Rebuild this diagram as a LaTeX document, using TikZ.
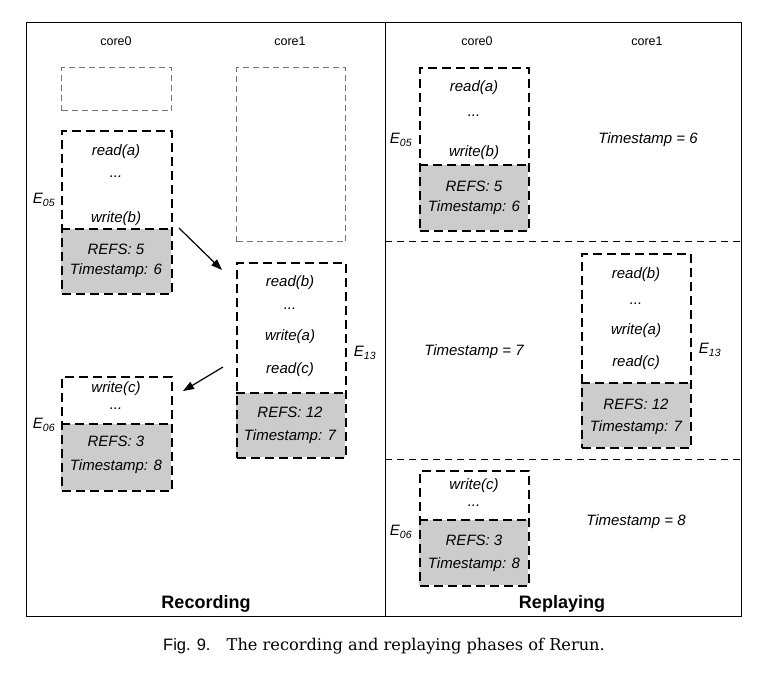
\documentclass[tikz,border=0pt]{standalone}
\usepackage{fontspec}
\newfontfamily\arialfont{Liberation Sans}
\newfontfamily\capfont{DejaVu Serif}
\usetikzlibrary{arrows.meta}

\begin{document}
\begin{tikzpicture}[x=1pt,y=-1pt,
  evbox/.style={draw, line width=1.6pt, dash pattern=on 9pt off 5pt},
  evline/.style={line width=1.6pt, dash pattern=on 9pt off 5pt},
  emptybox/.style={draw=black!55, line width=1pt, dash pattern=on 6pt off 4pt},
  refsfill/.style={fill=black!20},
  sepline/.style={line width=0.8pt, dash pattern=on 7pt off 5pt},
  op/.style={font=\arialfont\itshape\fontsize{15}{18}\selectfont},
  dots/.style={op, inner sep=0pt},
  elabel/.style={font=\arialfont\itshape\fontsize{15}{18}\selectfont},
  corelabel/.style={font=\arialfont\fontsize{12.5}{15}\selectfont},
  phase/.style={font=\arialfont\bfseries\fontsize{18}{22}\selectfont},
  flow/.style={line width=1.2pt, -{Triangle[length=11pt,width=8pt]}}]
\useasboundingbox (0,0) rectangle (762,675);
\fill[white] (0,0) rectangle (762,675);

% frame
\draw[line width=0.8pt] (26,22) rectangle (741,616);
\draw[line width=0.8pt] (385,22) -- (385,616);

% ---- recording ----
\node[corelabel] (rc0) at (116,41) {core0};
\node[corelabel] (rc1) at (290,41) {core1};

\node[emptybox, anchor=north west, minimum width=110pt, minimum height=43pt] (idle0) at (61,67) {};
\node[emptybox, anchor=north west, minimum width=109pt, minimum height=174pt] (idle1) at (236,67) {};

% E05
\fill[refsfill] (61,229) rectangle (171,293);
\node[evbox, anchor=north west, minimum width=110pt, minimum height=163pt] (rec05) at (61,130) {};
\draw[evline] (61,229) -- (171,229);
\node[op] (r05a) at (116,152) {read(a)};
\node[dots] (r05b) at (116,177) {...};
\node[op] (r05c) at (116,219) {write(b)};
\node[op] (r05d) at (116,249) {REFS: 5};
\node[op] (r05e) at (116,271) {Timestamp: 6};
\node[elabel] (r05l) at (44,200) {E\textsubscript{05}};

% E13
\fill[refsfill] (236,393) rectangle (345,457);
\node[evbox, anchor=north west, minimum width=109pt, minimum height=195pt] (rec13) at (236,262) {};
\draw[evline] (236,393) -- (345,393);
\node[op] (r13a) at (290,283) {read(b)};
\node[dots] (r13b) at (290,309) {...};
\node[op] (r13c) at (290,337) {write(a)};
\node[op] (r13d) at (290,370) {read(c)};
\node[op] (r13e) at (290,412) {REFS: 12};
\node[op] (r13f) at (290,437) {Timestamp: 7};
\node[elabel] (r13l) at (365,353) {E\textsubscript{13}};

% E06
\fill[refsfill] (61,424) rectangle (171,490);
\node[evbox, anchor=north west, minimum width=110pt, minimum height=114pt] (rec06) at (61,376) {};
\draw[evline] (61,424) -- (171,424);
\node[op] (r06a) at (116,389) {write(c)};
\node[dots] (r06b) at (116,409) {...};
\node[op] (r06c) at (116,441) {REFS: 3};
\node[op] (r06d) at (116,467) {Timestamp: 8};
\node[elabel] (r06l) at (44,425) {E\textsubscript{06}};

\coordinate (f1s) at (179,228);
\coordinate (f1e) at (222,270);
\coordinate (f2s) at (223,367);
\coordinate (f2e) at (183,391);
\draw[flow] (f1s) -- (f1e);
\draw[flow] (f2s) -- (f2e);

\node[phase] (recording) at (206,604) {Recording};

% ---- replaying ----
\node[corelabel] (pc0) at (477,41) {core0};
\node[corelabel] (pc1) at (647,41) {core1};
\draw[sepline] (385,241) -- (741,241);
\draw[sepline] (385,459) -- (741,459);

% E05
\fill[refsfill] (419,165) rectangle (528,230);
\node[evbox, anchor=north west, minimum width=109pt, minimum height=163pt] (rep05) at (419,67) {};
\draw[evline] (419,165) -- (528,165);
\node[op] (p05a) at (474,88) {read(a)};
\node[dots] (p05b) at (474,116) {...};
\node[op] (p05c) at (474,153) {write(b)};
\node[op] (p05d) at (474,186) {REFS: 5};
\node[op] (p05e) at (474,208) {Timestamp: 6};
\node[elabel] (p05l) at (401,140) {E\textsubscript{05}};
\node[op] (ts6) at (648,140) {Timestamp = 6};

% E13
\fill[refsfill] (581,383) rectangle (690,447);
\node[evbox, anchor=north west, minimum width=109pt, minimum height=194pt] (rep13) at (581,253) {};
\draw[evline] (581,383) -- (690,383);
\node[op] (p13a) at (636,275) {read(b)};
\node[dots] (p13b) at (636,304) {...};
\node[op] (p13c) at (636,331) {write(a)};
\node[op] (p13d) at (636,363) {read(c)};
\node[op] (p13e) at (636,404) {REFS: 12};
\node[op] (p13f) at (636,428) {Timestamp: 7};
\node[elabel] (p13l) at (710,350) {E\textsubscript{13}};
\node[op] (ts7) at (474,352) {Timestamp = 7};

% E06
\fill[refsfill] (419,520) rectangle (528,585);
\node[evbox, anchor=north west, minimum width=109pt, minimum height=115pt] (rep06) at (419,470) {};
\draw[evline] (419,520) -- (528,520);
\node[op] (p06a) at (474,486) {write(c)};
\node[dots] (p06b) at (474,506) {...};
\node[op] (p06c) at (474,540) {REFS: 3};
\node[op] (p06d) at (474,565) {Timestamp: 8};
\node[elabel] (p06l) at (401,532) {E\textsubscript{06}};
\node[op] (ts8) at (636,522) {Timestamp = 8};

\node[phase] (replaying) at (562,604) {Replaying};

\node[font=\capfont\fontsize{16.2}{19}\selectfont] (caption) at (384,646) {{\arialfont\fontsize{16.5}{19}\selectfont Fig. 9.}\quad The recording and replaying phases of Rerun.};
\end{tikzpicture}
\end{document}
